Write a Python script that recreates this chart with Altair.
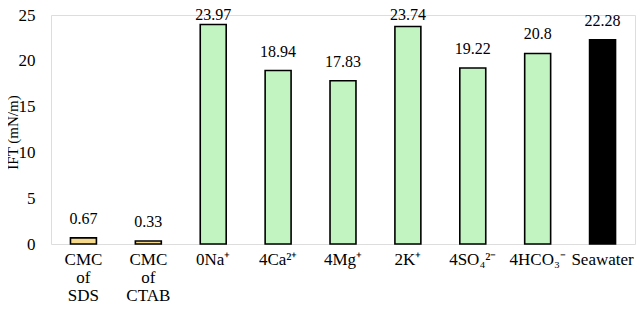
import altair as alt
import pandas as pd

categories = ["CMC|of|SDS", "CMC|of|CTAB", "0Na⁺", "4Ca²⁺", "4Mg⁺", "2K⁺", "4SO₄²⁻", "4HCO₃⁻", "Seawater"]
values = [0.67, 0.33, 23.97, 18.94, 17.83, 23.74, 19.22, 20.8, 22.28]
labels = ["0.67", "0.33", "23.97", "18.94", "17.83", "23.74", "19.22", "20.8", "22.28"]
groups = ["CMC", "CMC", "Ion", "Ion", "Ion", "Ion", "Ion", "Ion", "Seawater"]
y_ticks = [0, 5, 10, 15, 20, 25]

df = pd.DataFrame({"cat": categories, "v": values, "lab": labels, "grp": groups})

FONT = "Times New Roman, Liberation Serif, serif"

x = alt.X("cat:N", sort=categories, title=None,
          scale=alt.Scale(paddingInner=0.6, paddingOuter=0.3),
          axis=alt.Axis(labelAngle=0, labelExpr="split(datum.label, '|')",
                        labelLineHeight=18, labelFontSize=17, labelFont=FONT,
                        labelColor="black", labelPadding=7, ticks=False,
                        domain=False, labelBaseline="top"))

bars = alt.Chart(df).mark_bar(stroke="black", strokeWidth=1.6).encode(
    x=x,
    y=alt.Y("v:Q", title="IFT (mN/m)",
            scale=alt.Scale(domain=[0, 25], nice=False),
            axis=alt.Axis(values=y_ticks, grid=False, ticks=False, domain=False,
                          labelFontSize=17, labelFont=FONT, labelColor="black",
                          labelPadding=16, titleFont=FONT, titleFontSize=15,
                          titleFontWeight="normal", titleColor="black",
                          titleX=-38.5, titleY=117, titleAngle=270,
                          titleAlign="center", titleBaseline="middle")),
    color=alt.Color("grp:N", legend=None,
                    scale=alt.Scale(domain=["CMC", "Ion", "Seawater"],
                                    range=["#f6d98a", "#c2f4c2", "#000000"])),
)

text = alt.Chart(df).transform_calculate(
    ly="min(datum.v, 22.9)"
).mark_text(font=FONT, fontSize=16, color="black", dy=-14, baseline="alphabetic").encode(
    x=alt.X("cat:N", sort=categories),
    y=alt.Y("ly:Q"),
    text="lab:N",
)

chart = alt.layer(bars, text).properties(
    width=584, height=229,
    autosize=alt.AutoSizeParams(type="none"),
    padding={"left": 43, "top": 7, "right": 1, "bottom": 61},
).configure_view(stroke="black", strokeWidth=1.5).configure(background="white")

chart.save("out.html", embed_options={"renderer": "svg", "actions": False})
